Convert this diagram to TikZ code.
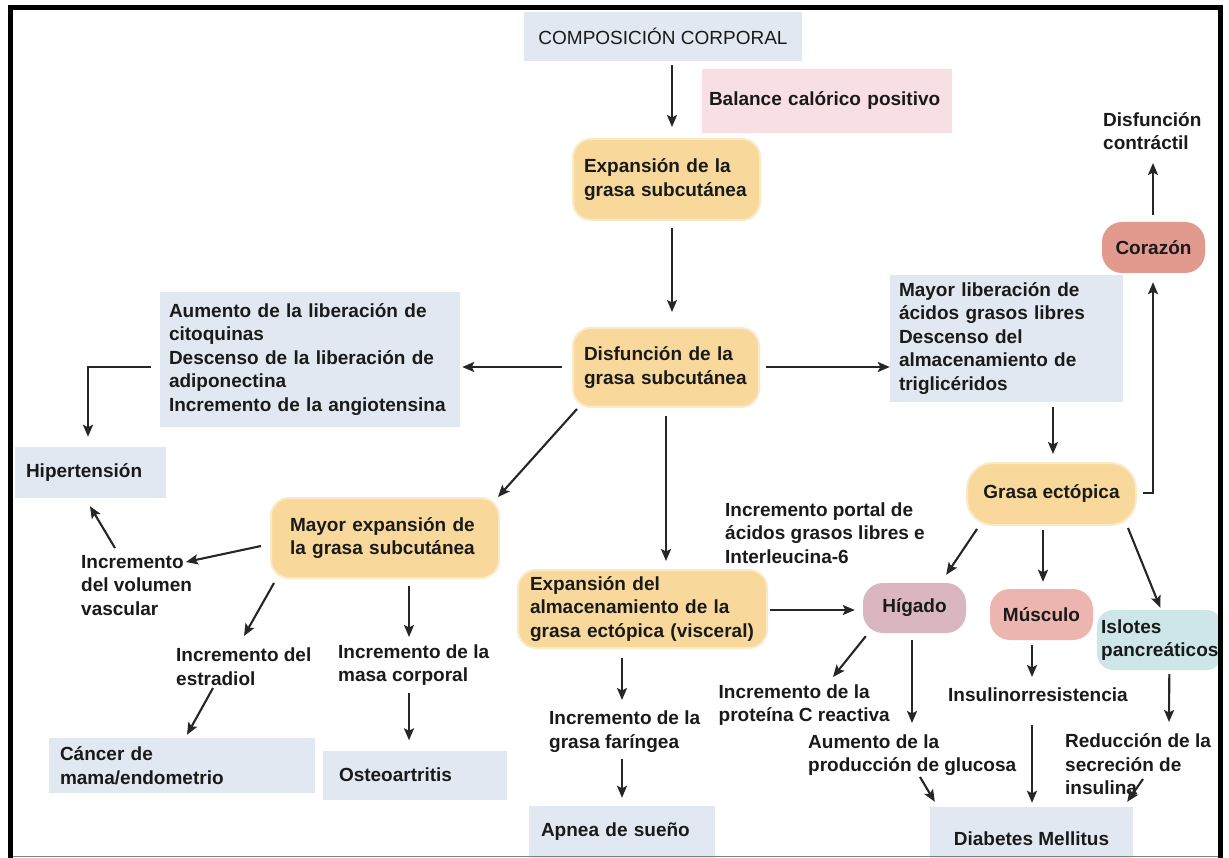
\documentclass[tikz,border=0pt]{standalone}
\usepackage{fontspec}
\setmainfont{Liberation Sans}
\usetikzlibrary{arrows.meta,calc}

\definecolor{ink}{HTML}{1A1A1A}
\definecolor{wire}{HTML}{262626}
\definecolor{boxblue}{HTML}{E2E8F1}
\definecolor{boxpink}{HTML}{F7DFE4}
\definecolor{fatyellow}{HTML}{F8D99B}
\definecolor{liver}{HTML}{D9B6C0}
\definecolor{heart}{HTML}{E39A8E}
\definecolor{muscle}{HTML}{EDB5B0}
\definecolor{islet}{HTML}{CDE7E8}

\begin{document}
\begin{tikzpicture}[x=1pt,y=-1pt,
  every node/.style={font=\fontsize{19}{23.5}\selectfont\bfseries, text=ink},
  flat/.style={rectangle, align=left, inner ysep=0pt},
  soft/.style={rectangle, rounded corners=18pt, align=left, inner ysep=0pt,
               fill=fatyellow, draw=fatyellow!55!white, line width=2pt},
  ctr/.style={rectangle, align=center, inner sep=0pt},
  lbl/.style={inner sep=0pt, align=left, anchor=west},
  arr/.style={draw=wire, line width=2.1pt, -{Stealth[length=12pt,width=10pt,inset=2.5pt]}}
]
\useasboundingbox (0,0) rectangle (1229,858);
\fill[white] (0,0) rectangle (1229,858);

% boxes
\node[ctr, fill=boxblue, minimum width=278pt, minimum height=49pt,
      font=\fontsize{19}{23.5}\selectfont\mdseries] (comp) at (663,36.5) {COMPOSICIÓN CORPORAL};
\node[flat, fill=boxpink, text width=236pt, inner xsep=7pt, minimum height=64pt] (bal) at (827,101) {Balance calórico positivo};
\node[soft, text width=165pt, inner xsep=11pt, minimum height=81pt] (exp1) at (666.5,179.5) {Expansión de la\\grasa subcutánea};
\node[soft, text width=164pt, inner xsep=11pt, minimum height=79pt] (dis) at (666,367.5) {Disfunción de la\\grasa subcutánea};
\node[flat, fill=boxblue, text width=282pt, inner xsep=9pt, minimum height=135pt] (cit) at (310,359.5)
  {Aumento de la liberación de\\citoquinas\\Descenso de la liberación de\\adiponectina\\Incremento de la angiotensina};
\node[flat, fill=boxblue, text width=129pt, inner xsep=11pt, minimum height=51pt] (hip) at (90.5,472.5) {Hipertensión};
\node[flat, fill=boxblue, text width=215pt, inner xsep=9pt, minimum height=127pt] (agl) at (1006.5,338.5)
  {Mayor liberación de\\ácidos grasos libres\\Descenso del\\almacenamiento de\\triglicéridos};
\node[ctr, fill=fatyellow, draw=fatyellow!55!white, line width=2pt, rounded corners=26pt,
      minimum width=169pt, minimum height=62pt] (ect) at (1051.5,494) {Grasa ectópica};
\node[ctr, fill=heart, rounded corners=20pt, minimum width=103pt, minimum height=51pt] (cor) at (1153.5,247.5) {Corazón};
\node[soft, text width=190pt, inner xsep=19pt, minimum height=80pt] (mex) at (385,538) {Mayor expansión de\\la grasa subcutánea};
\node[flat, fill=boxblue, text width=244pt, inner xsep=11pt, minimum height=55pt] (cancer) at (182,765.5) {Cáncer de\\mama/endometrio};
\node[flat, fill=boxblue, text width=152pt, inner xsep=16pt, minimum height=49pt] (osteo) at (415,775) {Osteoartritis};
\node[soft, text width=225pt, inner xsep=12pt, minimum height=78pt] (vis) at (642.5,609)
  {Expansión del\\almacenamiento de la\\grasa ectópica (visceral)};
\node[ctr, fill=liver, rounded corners=20pt, minimum width=103pt, minimum height=50pt] (hig) at (914.5,608) {Hígado};
\node[ctr, fill=muscle, rounded corners=20pt, minimum width=103pt, minimum height=51pt] (mus) at (1041.5,614.5) {Músculo};
\node[rectangle, fill=islet, rounded corners=16pt, align=left, inner xsep=4pt, inner ysep=0pt,
      minimum height=60pt, anchor=west] (isl) at (1097,640) {Islotes\\pancreáticos};
\node[flat, fill=boxblue, text width=162pt, inner xsep=12pt, minimum height=52pt] (apnea) at (622,832) {Apnea de sueño};
\node[ctr, fill=boxblue, minimum width=203pt, minimum height=63pt] (dm) at (1031.5,838.5) {Diabetes Mellitus};

% free labels
\node[lbl] (dcon) at (1103,131) {Disfunción\\contráctil};
\node[lbl] (vol) at (81,585.5) {Incremento\\del volumen\\vascular};
\node[lbl] (estr) at (176,666.5) {Incremento del\\estradiol};
\node[lbl] (masa) at (338,665) {Incremento de la\\masa corporal};
\node[lbl] (port) at (725,533) {Incremento portal de\\ácidos grasos libres e\\Interleucina-6};
\node[lbl] (far) at (549,731.5) {Incremento de la\\grasa faríngea};
\node[lbl] (pcr) at (718.5,705) {Incremento de la\\proteína C reactiva};
\node[lbl] (glu) at (808,755) {Aumento de la\\producción de glucosa};
\node[lbl] (ins) at (948,695) {Insulinorresistencia};
\node[lbl] (red) at (1065,764.5) {Reducción de la\\secreción de\\insulina};

% connectors
\draw[arr] ($(comp.south)+(9,4)$) -- ($(exp1.north)+(5.5,-11)$);
\draw[arr] ($(exp1.south)+(5.5,7)$) -- ($(dis.north)+(6,-15)$);
\draw[arr] ($(dis.west)+(-10,-0.5)$) -- ($(cit.east)+(2,7.5)$);
\draw[arr] ($(cit.west)+(-9,7.5)$) -| ($(hip.north)+(-2.5,-10)$);
\draw[arr] ($(dis.east)+(6,-0.5)$) -- ($(agl.west)+(0,28.5)$);
\draw[arr] ($(agl.south)+(46.5,5)$) -- ($(ect.north)+(1.5,-8)$);
\draw[arr] ($(ect.east)+(6,-1)$) -| ($(cor.south)+(-0.5,9)$);
\draw[arr] ($(cor.north)+(-0.5,-7)$) -- ($(dcon.west)+(50,32)$);
\draw[arr] ($(dis.south west)+(5,1)$) -- ($(mex.north east)+(-2,0)$);
\draw[arr] ($(dis.south)+(0,8)$) -- ($(vis.north)+(23.5,-8)$);
\draw[arr] ($(mex.west)+(-9,8)$) -- ($(vol.west)+(105,-23.5)$);
\draw[arr] ($(vol.west)+(34,-37.5)$) -- ($(hip.south)+(-0.5,8)$);
\draw[arr] ($(mex.south west)+(4,4)$) -- ($(estr.west)+(68,-30.5)$);
\draw[arr] ($(estr.west)+(37,21.5)$) -- ($(cancer.north)+(5,-3)$);
\draw[arr] ($(mex.south)+(24,7)$) -- ($(masa.west)+(71,-28)$);
\draw[arr] ($(masa.west)+(71,28)$) -- ($(osteo.north)+(-6,-10)$);
\draw[arr] ($(vis.east)+(2,1)$) -- ($(hig.west)+(-8,2)$);
\draw[arr] ($(vis.south)+(-20.5,9)$) -- ($(far.west)+(73,-31.5)$);
\draw[arr] ($(far.west)+(73,27.5)$) -- ($(apnea.north)+(0,-8)$);
\draw[arr] ($(ect.south west)+(11,3)$) -- ($(hig.north east)+(-20,-8)$);
\draw[arr] ($(ect.south)+(-8.5,4)$) -- ($(mus.north)+(1.5,-7)$);
\draw[arr] ($(ect.south east)+(-9,2)$) -- ($(isl.north)+(0.5,-2)$);
\draw[arr] ($(hig.south west)+(3,3)$) -- ($(pcr.west)+(114.5,-28)$);
\draw[arr] ($(hig.south)+(-2.5,7)$) -- ($(glu.west)+(104,-32)$);
\draw[arr] ($(glu.west)+(112,22)$) -- ($(dm.north west)+(5,-5)$);
\draw[arr] ($(mus.south)+(-9.5,5)$) -- ($(ins.west)+(84,-18)$);
\draw[arr] ($(ins.west)+(84,30)$) -- ($(dm.north)+(0.5,-4)$);
\draw[arr] ($(isl.south)+(9.5,4)$) -- ($(red.west)+(104,-42.5)$);
\draw[arr] ($(red.west)+(78,14.5)$) -- ($(dm.north east)+(-6,-5)$);

% frame
\draw[line width=5pt, line cap=butt, line join=miter] (10.5,858) -- (10.5,7.5) -- (1220.5,7.5) -- (1220.5,858);
\draw[line width=1.5pt, draw=gray] (13,856.5) -- (1218,856.5);
\end{tikzpicture}
\end{document}
